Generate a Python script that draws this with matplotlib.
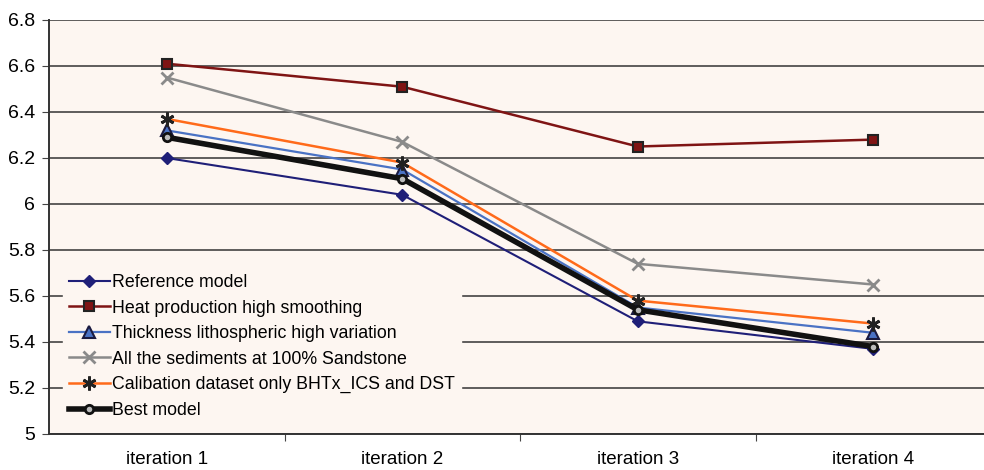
import matplotlib.pyplot as plt
import numpy as np

plt.rcParams['font.family'] = ['Liberation Sans', 'DejaVu Sans']

categories = ['iteration 1', 'iteration 2', 'iteration 3', 'iteration 4']
reference = [6.20, 6.04, 5.49, 5.37]
heat_prod = [6.61, 6.51, 6.25, 6.28]
thickness = [6.32, 6.15, 5.55, 5.44]
sediments = [6.55, 6.27, 5.74, 5.65]
calibration = [6.37, 6.18, 5.58, 5.48]
best = [6.29, 6.11, 5.54, 5.38]

labels = ['Reference model', 'Heat production high smoothing',
          'Thickness lithospheric high variation',
          'All the sediments at 100% Sandstone',
          'Calibation dataset only BHTx_ICS and DST', 'Best model']

fig = plt.figure(figsize=(9.84, 4.70), dpi=100)
ax = fig.add_axes([49 / 984, 36 / 470, 942 / 984, 414 / 470])
bg = '#fdf6f1'
ax.set_facecolor(bg)

x = np.arange(len(categories))

ax.plot(x, reference, color='#1f1f78', lw=1.5, marker='D', ms=6,
        mfc='#1f1f78', mec='#1f1f78', label=labels[0])
ax.plot(x, heat_prod, color='#7f1414', lw=1.8, marker='s', ms=7,
        mfc='#7f1414', mec='#222222', mew=1.5, label=labels[1])
ax.plot(x, thickness, color='#4a72c4', lw=1.6, marker='^', ms=8,
        mfc='#4a72c4', mec='#1a1a40', mew=1.5, label=labels[2])
ax.plot(x, sediments, color='#8a8a8a', lw=1.8, marker='x', ms=9,
        mew=2, label=labels[3])
ax.plot(x, calibration, color='#ff6a1a', lw=1.8, marker=(6, 2, 0), ms=10,
        mec='#222222', mew=2, label=labels[4])
ax.plot(x, best, color='#111111', lw=4, marker='o', ms=6,
        mfc='#bbbbbb', mec='#111111', mew=2, label=labels[5])

ax.set_ylim(5, 6.8)
ax.set_yticks(np.arange(5, 6.81, 0.2))
ax.set_yticklabels(['5', '5.2', '5.4', '5.6', '5.8', '6', '6.2', '6.4', '6.6', '6.8'])
ax.set_xlim(-0.5, 3.5)
ax.set_xticks([0.5, 1.5, 2.5])
ax.set_xticklabels([])
ax.set_xticks(x, minor=True)
ax.set_xticklabels(categories, minor=True)
ax.tick_params(axis='x', which='minor', length=0, pad=12, labelsize=13.5)
ax.tick_params(axis='x', which='major', length=5, color='#444444')
ax.tick_params(axis='y', length=5, labelsize=14, pad=5, color='#444444')

ax.yaxis.grid(True, color='#333333', lw=1.1)
ax.set_axisbelow(True)
for side in ['top', 'right']:
    ax.spines[side].set_visible(False)
ax.spines['left'].set_color('#333333')
ax.spines['left'].set_linewidth(1.4)
ax.spines['bottom'].set_color('#333333')
ax.spines['bottom'].set_linewidth(1.4)

leg = ax.legend(loc='lower left', bbox_to_anchor=(0.005, 0.0), fontsize=12.8,
                frameon=True, fancybox=False, handlelength=2.3,
                handletextpad=0.15, labelspacing=0.48, borderpad=0.35)
leg.get_frame().set_facecolor(bg)
leg.get_frame().set_edgecolor(bg)
leg.get_frame().set_alpha(1)

fig.savefig('out.png', dpi=100)
